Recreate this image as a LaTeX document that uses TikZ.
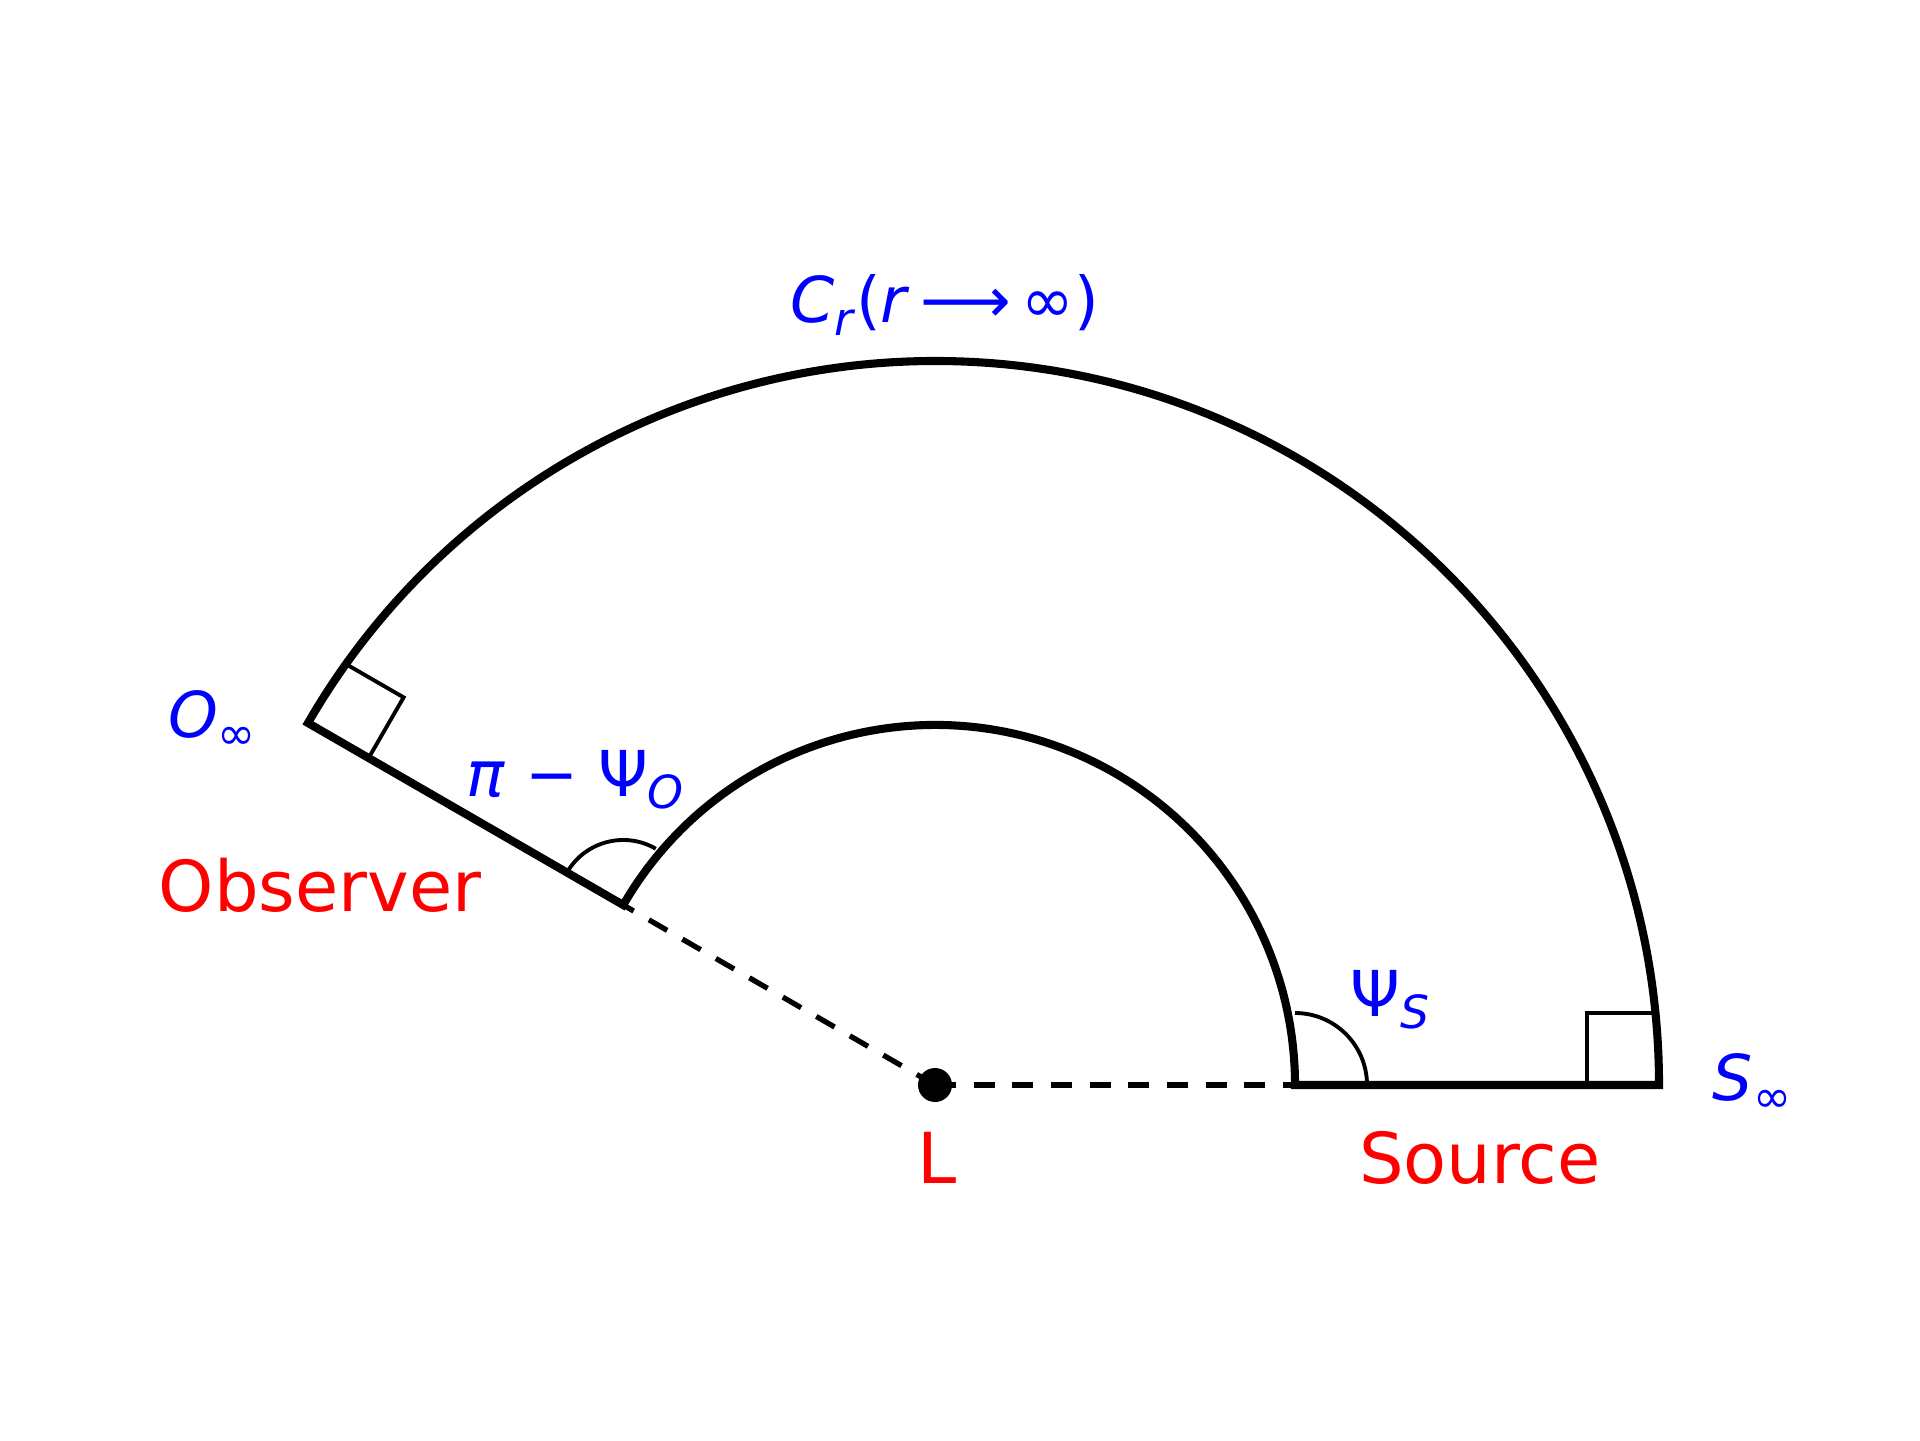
\documentclass[tikz,border=0pt]{standalone}
\usepackage{fontspec}
\setmainfont{DejaVu Sans}
\usetikzlibrary{calc}
\newcommand{\lowsub}[1]{\raisebox{-0.35ex}{\fontsize{13}{13}\selectfont #1}}
\tikzset{
  contour/.style={line width=2.3pt,line join=miter},
  marker/.style={line width=1.1pt},
  dashline/.style={line width=1.5pt,dash pattern=on 6pt off 5pt},
  bluelabel/.style={text=blue,font=\fontsize{18}{20}\selectfont},
  redlabel/.style={text=red,font=\fontsize{20}{22}\selectfont}
}
\begin{document}
\begin{tikzpicture}
	\useasboundingbox (0,0) rectangle (19.2,14.4);
	\coordinate (L) at (9.35,3.55);
	\coordinate (Oi) at ($(L)+(150:3.6)$);
	\coordinate (Oo) at ($(L)+(150:7.24)$);
	\coordinate (Si) at ($(L)+(0:3.6)$);
	\coordinate (So) at ($(L)+(0:7.24)$);
	\draw[contour] (So) arc[start angle=0,end angle=150,radius=7.24] -- (Oi)
		arc[start angle=150,end angle=0,radius=3.6] -- cycle;
	\draw[dashline] (L) -- (Oi);
	\draw[dashline] (L) -- (Si);
	\fill (L) circle (0.17);
	% right angles
	\draw[marker] ($(So)+(-0.72,0)$) -- ++(0,0.72) -- ++(0.72,0);
	\draw[marker] ($(Oo)+(-30:0.7)$) -- ++(60:0.7) -- ++(150:0.7);
	% angle arcs
	\draw[marker] ($(Oi)+(150:0.65)$) arc[start angle=150,end angle=60,radius=0.65];
	\draw[marker] ($(Si)+(0:0.72)$) arc[start angle=0,end angle=90,radius=0.72];
	% labels
	\node[bluelabel] (cr) at (9.45,11.35) {\textit{C}\lowsub{\textit{r}}(\textit{r}\,⟶\,∞)};
	\node[bluelabel] (oinf) at (2.12,7.2) {\textit{O}\lowsub{∞}};
	\node[bluelabel] (psio) at (5.75,6.6) {\textit{π} − Ψ\lowsub{\textit{O}}};
	\node[bluelabel] (psis) at (13.9,4.4) {Ψ\lowsub{\textit{S}}};
	\node[bluelabel] (sinf) at (17.52,3.57) {\textit{S}\lowsub{∞}};
	\node[redlabel] (obs) at (3.2,5.55) {Observer};
	\node[redlabel] (lens) at (9.37,2.82) {L};
	\node[redlabel] (src) at (14.8,2.82) {Source};
\end{tikzpicture}
\end{document}
